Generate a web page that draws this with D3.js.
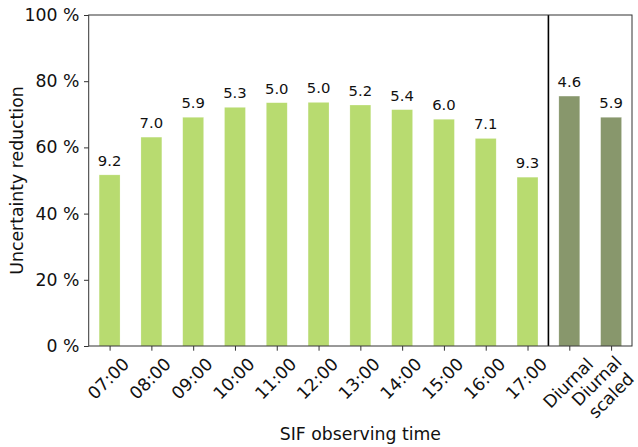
<!DOCTYPE html>
<html>
<head>
<meta charset="utf-8">
<script src="https://cdn.jsdelivr.net/npm/d3@7"></script>
<style>
  html, body { margin: 0; padding: 0; background: #fff; }
  svg { display: block; font-family: "DejaVu Sans", sans-serif; }
</style>
</head>
<body>
<svg id="chart" width="638" height="447"></svg>
<script>
// Observing times and the two diurnal experiments
const categories = ["07:00", "08:00", "09:00", "10:00", "11:00", "12:00", "13:00",
                    "14:00", "15:00", "16:00", "17:00", "Diurnal", "Diurnal\nscaled"];
// Uncertainty reduction (%) per experiment
const reduction = [51.7, 63.1, 69.1, 72.1, 73.5, 73.6, 72.8, 71.4, 68.5, 62.7, 51.0, 75.5, 69.1];
// Numbers printed above each bar
const barLabels = ["9.2", "7.0", "5.9", "5.3", "5.0", "5.0", "5.2", "5.4", "6.0", "7.1", "9.3", "4.6", "5.9"];
// Experiment group: single observing hour vs. diurnal
const groups = ["hour", "hour", "hour", "hour", "hour", "hour", "hour",
                "hour", "hour", "hour", "hour", "diurnal", "diurnal"];
const yTicks = [0, 20, 40, 60, 80, 100];

const colors = { hour: "#b8db70", diurnal: "#88976c" };

const svg = d3.select("#chart");
const margin = { left: 88.7, right: 6, top: 15, bottom: 101 };
const W = 638, H = 447;
const plotW = W - margin.left - margin.right;
const plotH = H - margin.top - margin.bottom;

const g = svg.append("g").attr("transform", `translate(${margin.left},${margin.top})`);

const x = d3.scaleLinear().domain([-0.5, categories.length - 0.5]).range([0, plotW]);
const y = d3.scaleLinear().domain([0, 100]).range([plotH, 0]);
const barW = x(0.5) - x(0);

// Bars
g.selectAll("rect.bar")
  .data(reduction)
  .join("rect")
  .attr("class", "bar")
  .attr("x", (d, i) => x(i) - barW / 2)
  .attr("y", d => y(d))
  .attr("width", barW)
  .attr("height", d => y(0) - y(d))
  .attr("fill", (d, i) => colors[groups[i]])
  .attr("stroke", "#ffffff")
  .attr("stroke-opacity", 0.35)
  .attr("stroke-width", 0.6);

// Value labels above bars
g.selectAll("text.val")
  .data(reduction)
  .join("text")
  .attr("class", "val")
  .attr("x", (d, i) => x(i))
  .attr("y", d => y(d) - 9)
  .attr("text-anchor", "middle")
  .attr("font-size", "14.8px")
  .attr("fill", "#111")
  .text((d, i) => barLabels[i]);

// Separator between hourly and diurnal experiments
g.append("line")
  .attr("x1", x(10.5)).attr("x2", x(10.5))
  .attr("y1", 0).attr("y2", plotH)
  .attr("stroke", "#000").attr("stroke-width", 1.6);

// Y axis
const yAxis = d3.axisLeft(y).tickValues(yTicks).tickFormat(d => d + " %")
  .tickSize(4.7).tickPadding(4.7);
const ya = g.append("g").call(yAxis);
ya.select(".domain").remove();
ya.selectAll("line").attr("stroke", "#333").attr("stroke-width", 1);
ya.selectAll("text").attr("font-size", "17.3px").attr("fill", "#111")
  .attr("font-family", "DejaVu Sans, sans-serif");

// X axis ticks
const xAxis = d3.axisBottom(x).tickValues(d3.range(categories.length))
  .tickSize(4.7).tickFormat("");
const xa = g.append("g").attr("transform", `translate(0,${plotH})`).call(xAxis);
xa.select(".domain").remove();
xa.selectAll("line").attr("stroke", "#333").attr("stroke-width", 1);

// Rotated category labels, centred on each tick
const fs = 17.3, lineH = fs * 1.18, labelTop = plotH + 9.4;
categories.forEach((c, i) => {
  const lines = c.split("\n");
  const t = g.append("text")
    .attr("font-size", fs + "px")
    .attr("fill", "#111")
    .attr("text-anchor", "middle");
  lines.forEach((ln, k) => {
    t.append("tspan").attr("x", 0)
      .attr("y", (k - (lines.length - 1) / 2) * lineH)
      .attr("dy", "0.35em")
      .text(ln);
  });
  let w = 0;
  t.selectAll("tspan").each(function () { w = Math.max(w, this.getComputedTextLength()); });
  const extra = lines.length - 1;
  const h = fs * 1.16 + extra * lineH;
  const half = (w + h) * Math.SQRT1_2 / 2;
  const cx = x(i) - 1.2 - 6 * extra;
  const cy = labelTop + half - 1.5 - 2 * extra;
  t.attr("transform", `translate(${cx},${cy}) rotate(-45)`);
});

// Frame
g.append("rect")
  .attr("x", 0).attr("y", 0).attr("width", plotW).attr("height", plotH)
  .attr("fill", "none").attr("stroke", "#333").attr("stroke-width", 1);

// Axis titles
svg.append("text")
  .attr("transform", `translate(23,${margin.top + plotH / 2}) rotate(-90)`)
  .attr("text-anchor", "middle")
  .attr("font-size", "17.3px").attr("fill", "#111")
  .text("Uncertainty reduction");

svg.append("text")
  .attr("x", margin.left + plotW / 2).attr("y", 440)
  .attr("text-anchor", "middle")
  .attr("font-size", "17.3px").attr("fill", "#111")
  .text("SIF observing time");
</script>
</body>
</html>
